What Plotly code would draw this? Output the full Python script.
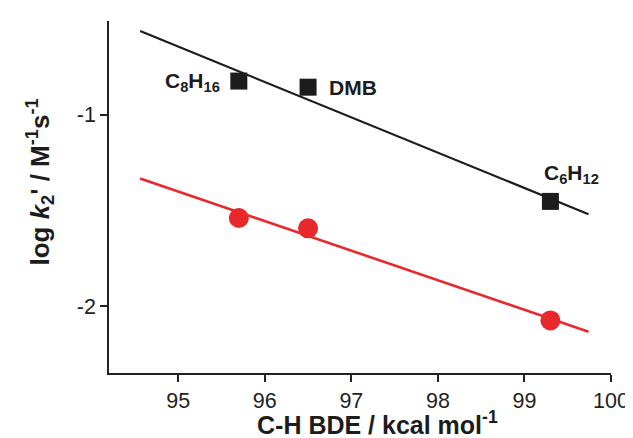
import numpy as np
import plotly.graph_objects as go

# ---- data ----
bde = [95.7, 96.5, 99.3]                       # C-H BDE / kcal mol-1
labels = ["C<sub>8</sub>H<sub>16</sub>", "DMB", "C<sub>6</sub>H<sub>12</sub>"]
log_k_black = [-0.824, -0.856, -1.453]         # squares
log_k_red = [-1.54, -1.594, -2.075]            # circles
fit_x = [94.56, 99.74]                         # extent of the fitted lines
x_ticks = [95, 96, 97, 98, 99, 100]
y_ticks = [-1, -2]
y_tick_text = ["-1", "-2"]

FONT = "Arial, Liberation Sans, Helvetica, sans-serif"
BLACK = "#1c1c1c"
RED = "#e8282b"


def fit_line(x, y, xr):
    m, b = np.polyfit(x, y, 1)
    xr = np.array(xr)
    return xr, m * xr + b


fig = go.Figure()

bx, by = fit_line(bde, log_k_black, fit_x)
rx, ry = fit_line(bde, log_k_red, fit_x)

fig.add_trace(go.Scatter(x=bx, y=by, mode="lines",
                         line=dict(color=BLACK, width=2.2), showlegend=False))
fig.add_trace(go.Scatter(x=rx, y=ry, mode="lines",
                         line=dict(color=RED, width=2.6), showlegend=False))
fig.add_trace(go.Scatter(x=bde, y=log_k_black, mode="markers",
                         marker=dict(symbol="square", size=17, color=BLACK),
                         showlegend=False))
fig.add_trace(go.Scatter(x=bde, y=log_k_red, mode="markers",
                         marker=dict(symbol="circle", size=20, color=RED),
                         showlegend=False))

# point labels (bold, as in the reference)
label_style = [
    dict(xanchor="right", xshift=-17, yshift=-1),
    dict(xanchor="left", xshift=19, yshift=0),
    dict(xanchor="left", xshift=-8, yshift=27),
]
for x, y, t, s in zip(bde, log_k_black, labels, label_style):
    fig.add_annotation(x=x, y=y, text="<b>" + t + "</b>", showarrow=False,
                       yanchor="middle",
                       font=dict(family=FONT, size=21, color=BLACK), **s)

# axis titles
fig.add_annotation(xref="paper", yref="paper", x=0.535, y=-0.092,
                   text="<b>C-H BDE / kcal mol<sup>-1</sup></b>", showarrow=False,
                   xanchor="center", yanchor="top",
                   font=dict(family=FONT, size=25, color=BLACK))
fig.add_annotation(xref="paper", yref="paper", x=-0.138, y=0.543,
                   text="<b>log <i>k</i><sub>2</sub>' / M<sup>-1</sup>s<sup>-1</sup></b>",
                   showarrow=False, textangle=-90,
                   xanchor="center", yanchor="middle",
                   font=dict(family=FONT, size=26, color=BLACK))

axis_common = dict(showline=True, linecolor="#222", linewidth=1.6,
                   ticks="outside", ticklen=7, tickwidth=1.6, tickcolor="#222",
                   showgrid=False, zeroline=False,
                   tickfont=dict(family=FONT, size=21.5, color="#222"))

fig.update_layout(
    width=633, height=438,
    margin=dict(l=101, r=21, t=13, b=73),
    paper_bgcolor="white", plot_bgcolor="white",
    xaxis=dict(range=[94.2, 100], tickvals=x_ticks, **axis_common),
    yaxis=dict(range=[-2.35, -0.51], tickvals=y_ticks, ticktext=y_tick_text,
               **axis_common),
)

fig.write_html("out.html")
